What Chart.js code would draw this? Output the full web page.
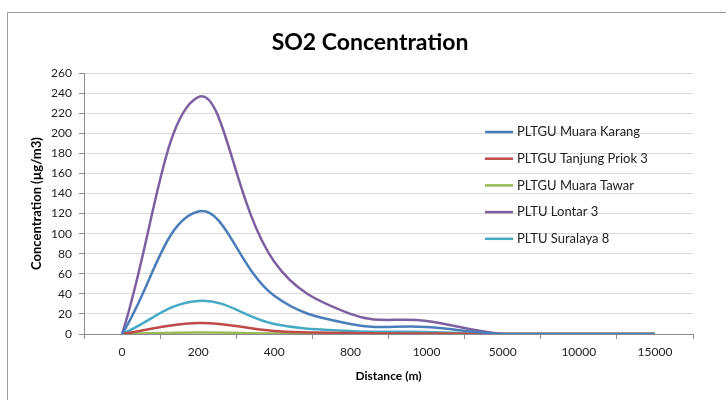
<!DOCTYPE html>
<html lang="en">
<head>
  <meta charset="UTF-8">
  <title>SO2 Concentration</title>
  <script src="https://cdn.jsdelivr.net/npm/chart.js"></script>
  <style>
    body { margin: 0; background: #fff; }
    #wrap { position: relative; width: 726px; height: 400px; overflow: hidden; }
    #frame { position: absolute; left: 7px; top: 12px; width: 740px; height: 420px; border: 1px solid #9a9a9a; }
    canvas { position: absolute; left: 0; top: 0; }
  </style>
</head>
<body>
  <div id="wrap">
    <div id="frame"></div>
    <canvas id="chart" width="726" height="400"></canvas>
  </div>

  <script>
    const distances = ['0', '200', '400', '800', '1000', '5000', '10000', '15000'];
    const muaraKarang = [0, 122, 38, 10, 7, 0, 0, 0];
    const tanjungPriok = [0, 11, 3, 1, 0.5, 0, 0, 0];
    const muaraTawar = [0, 1.5, 0.5, 0.2, 0.1, 0, 0, 0];
    const lontar = [0, 236, 72, 20, 13, 0, 0, 0];
    const suralaya = [0, 33, 10, 3, 2, 0, 0, 0];
    const yTicks = [0, 260, 20]; // min, max, step

    const font = 'Lato';

    const series = [
      { label: 'PLTGU Muara Karang', data: muaraKarang, color: '#4a7ebb' },
      { label: 'PLTGU Tanjung Priok 3', data: tanjungPriok, color: '#be4b48' },
      { label: 'PLTGU Muara Tawar', data: muaraTawar, color: '#98b954' },
      { label: 'PLTU Lontar 3', data: lontar, color: '#7d60a0' },
      { label: 'PLTU Suralaya 8', data: suralaya, color: '#46aac5' }
    ];

    // legend sits over the plot area, like the spreadsheet one
    const overlayLegend = {
      id: 'overlayLegend',
      afterDatasetsDraw(chart) {
        const ctx = chart.ctx;
        ctx.save();
        ctx.font = '13px ' + font;
        ctx.textBaseline = 'middle';
        chart.data.datasets.forEach((ds, i) => {
          const y = 132 + i * 26.7;
          ctx.strokeStyle = ds.borderColor;
          ctx.lineWidth = 2.5;
          ctx.beginPath();
          ctx.moveTo(485, y);
          ctx.lineTo(513, y);
          ctx.stroke();
          ctx.fillStyle = '#222';
          ctx.fillText(ds.label, 517, y);
        });
        ctx.restore();
      }
    };

    new Chart(document.getElementById('chart'), {
      type: 'line',
      data: {
        labels: distances,
        datasets: series.map(s => ({
          label: s.label,
          data: s.data,
          borderColor: s.color,
          backgroundColor: s.color,
          borderWidth: 2.5,
          pointRadius: 0,
          tension: 0.4,
          fill: false
        }))
      },
      options: {
        responsive: false,
        animation: false,
        layout: { padding: { top: 0, left: 14, right: 0, bottom: 0 } },
        plugins: {
          legend: { display: false },
          tooltip: { enabled: false },
          title: {
            display: true,
            text: 'SO2 Concentration',
            color: '#000',
            font: { family: font, size: 23, weight: 'bold', lineHeight: 1.2 },
            padding: { top: 28.5, bottom: 17 }
          }
        },
        scales: {
          x: {
            offset: true,
            afterFit: s => { s.height = 66; },
            grid: { offset: true, drawOnChartArea: false, drawTicks: true, tickLength: 5, color: '#8c8c8c' },
            border: { color: '#8c8c8c' },
            ticks: { color: '#222', font: { family: font, size: 12 }, padding: 6, maxRotation: 0 },
            title: {
              display: true,
              text: 'Distance (m)',
              color: '#000',
              font: { family: font, size: 12, weight: 'bold', lineHeight: 1.2 },
              padding: { top: 0, bottom: 17 }
            }
          },
          y: {
            min: yTicks[0],
            max: yTicks[1],
            afterFit: s => { s.width = 70; },
            grid: { color: '#d9d9d9', tickLength: 5, tickColor: '#8c8c8c' },
            border: { color: '#8c8c8c' },
            ticks: { stepSize: yTicks[2], color: '#222', font: { family: font, size: 12 }, padding: 7 },
            title: {
              display: true,
              text: 'Concentration (µg/m3)',
              color: '#000',
              font: { family: font, size: 13, weight: 'bold', lineHeight: 1.2 },
              padding: { top: 15, bottom: 0 }
            }
          },
          // empty right-hand strip so the title centres on the whole frame
          spacer: {
            position: 'right',
            display: true,
            afterFit: s => { s.width = 33; },
            grid: { display: false, drawTicks: false },
            border: { display: false },
            ticks: { display: false }
          }
        }
      },
      plugins: [overlayLegend]
    });
  </script>
</body>
</html>
